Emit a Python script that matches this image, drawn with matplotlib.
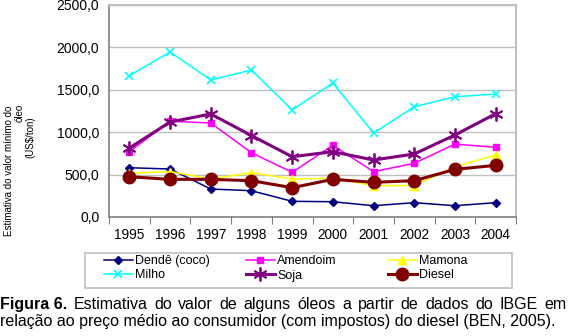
import numpy as np
import matplotlib
matplotlib.use("Agg")
import matplotlib.pyplot as plt
from matplotlib.patches import Rectangle

plt.rcParams['font.family'] = ['Liberation Sans', 'DejaVu Sans']

anos = ['1995', '1996', '1997', '1998', '1999', '2000', '2001', '2002', '2003', '2004']

dende = [581, 566, 330, 310, 185, 180, 133, 169, 133, 169]
amendoim = [770, 1130, 1108, 758, 527, 845, 535, 633, 860, 822]
mamona = [515, 535, 448, 522, 448, 456, 370, 370, 593, 731]
milho = [1666, 1946, 1616, 1733, 1262, 1580, 990, 1300, 1418, 1450]
soja = [813, 1120, 1215, 960, 711, 770, 672, 743, 967, 1218]
diesel = [475, 444, 444, 428, 346, 444, 409, 428, 562, 609]

yticks = [0, 500, 1000, 1500, 2000, 2500]
ytick_labels = ['0,0', '500,0', '1000,0', '1500,0', '2000,0', '2500,0']

W, H = 570, 336
fig = plt.figure(figsize=(W/100, H/100), dpi=100)
ax = fig.add_axes([109/W, 1-217/H, 407/W, 212/H])

x = np.arange(len(anos))
star = (6, 2, 0)
l_dende, = ax.plot(x, dende, color='#000080', lw=1.1, marker='D', ms=4, label='Dendê (coco)', zorder=3)
l_milho, = ax.plot(x, milho, color='#00FFFF', lw=1.1, marker='x', ms=6, mew=1.2, label='Milho', zorder=3)
l_amend, = ax.plot(x, amendoim, color='#FF00FF', lw=1.1, marker='s', ms=5, label='Amendoim', zorder=3)
l_soja, = ax.plot(x, soja, color='#800080', lw=2.2, marker=star, ms=10, mew=1.3, label='Soja', zorder=4)
l_mamona, = ax.plot(x, mamona, color='#FFFF00', lw=1.1, marker='^', ms=6, label='Mamona', zorder=3)
l_diesel, = ax.plot(x, diesel, color='#800000', lw=2.2, marker='o', ms=9, label='Diesel', zorder=5)

ax.set_xlim(-0.5, 9.5)
ax.set_ylim(0, 2500)
ax.set_xticks(np.arange(-0.5, 10, 1))
ax.set_xticklabels([])
ax.set_xticks(x, minor=True)
ax.set_xticklabels(anos, minor=True, fontsize=9.8)
ax.tick_params(axis='x', which='minor', length=0, pad=8)
ax.tick_params(axis='x', which='major', length=5, color='#808080', direction='out')
ax.set_yticks(yticks)
ax.set_yticklabels(ytick_labels, fontsize=10)
ax.tick_params(axis='y', length=0, pad=7)
ax.grid(axis='y', color='#c0c0c0', lw=1)
ax.set_axisbelow(True)
for s in ['left', 'bottom']:
    ax.spines[s].set_color('#808080')
    ax.spines[s].set_linewidth(1.2)
for s in ['top', 'right']:
    ax.spines[s].set_color('#c0c0c0')
    ax.spines[s].set_linewidth(1.5)

# rotated y label (three lines, placed as in the original)
fig.text(9/W, 1-171/H, 'Estimativa do valor mínimo do', rotation=90,
         ha='center', va='center', fontsize=7)
fig.text(19.5/W, 1-113/H, 'óleo', rotation=90, ha='center', va='center', fontsize=7)
fig.text(30/W, 1-137/H, '(US$/ton)', rotation=90, ha='center', va='center', fontsize=7)

# legend: frame + one small legend per column
fig.add_artist(Rectangle((85/W, 1-288/H), 427/W, 35/H, transform=fig.transFigure,
                         fill=False, edgecolor='#c0c0c0', lw=1.2))
cols = [([l_dende, l_milho], 104), ([l_amend, l_soja], 246), ([l_mamona, l_diesel], 388)]
for handles, x0 in cols:
    lg = fig.legend(handles=handles, loc='upper left', bbox_to_anchor=(x0/W, 1-255/H),
                    frameon=False, fontsize=9, handlelength=2.3, handletextpad=0.2,
                    borderpad=0, borderaxespad=0, labelspacing=0.2, numpoints=1)

# caption, first line justified
renderer = fig.canvas.get_renderer()
fs = 11.5
y1 = 1-309/H
words = [('Figura 6.', 'bold')] + [(w, 'normal') for w in
         'Estimativa do valor de alguns óleos a partir de dados do IBGE em'.split()]
txts = [fig.text(0, y1, w, fontsize=fs, fontweight=fw, va='baseline') for w, fw in words]
widths = [t.get_window_extent(renderer).width for t in txts]
gap = (566 - sum(widths)) / (len(txts) - 1)
pos = 0.0
for t, wd in zip(txts, widths):
    t.set_x(pos / W)
    pos += wd + gap
fig.text(0.0, 1-326/H, 'relação ao preço médio ao consumidor (com impostos) do diesel (BEN, 2005).',
         fontsize=fs, va='baseline')

fig.savefig('out.png', dpi=100)
